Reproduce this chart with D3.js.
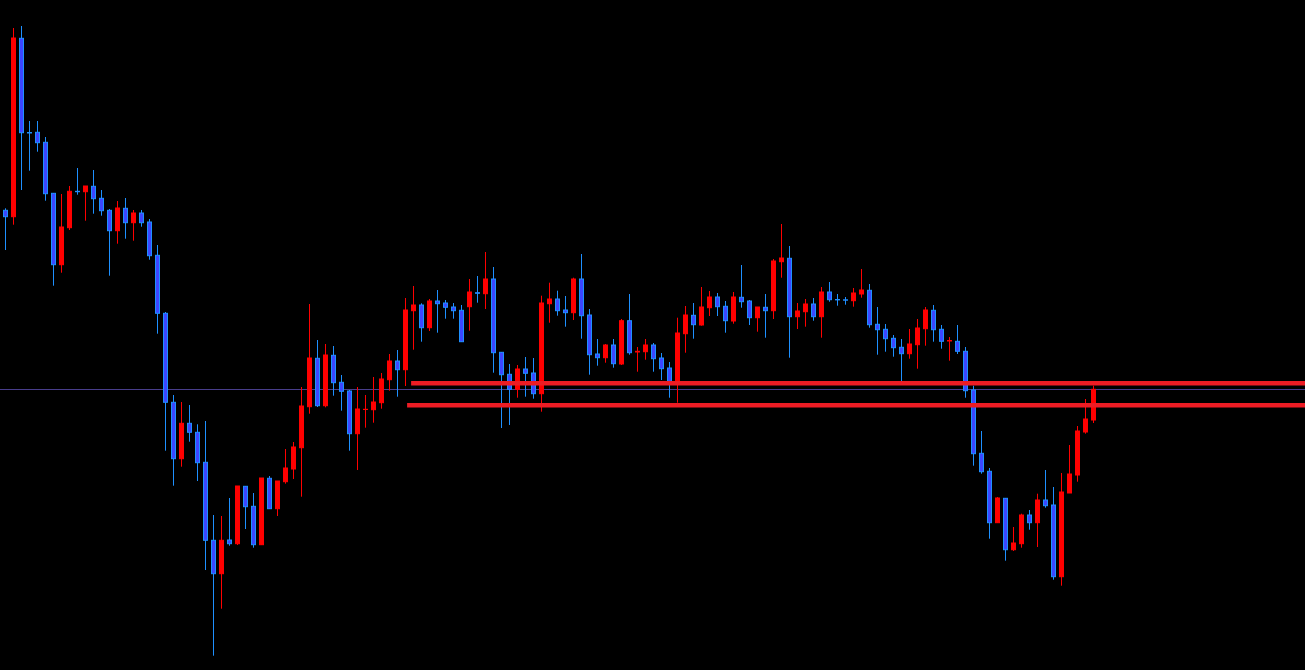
<!DOCTYPE html>
<html>
<head>
<meta charset="utf-8">
<script src="https://cdn.jsdelivr.net/npm/d3@7"></script>
<style>
html,body{margin:0;padding:0;background:#000;overflow:hidden;}
svg{display:block;}
</style>
</head>
<body>
<svg id="chart" width="1305" height="670"></svg>
<script>
// OHLC series (price units)
const opens = [459.7,453.3,631.7,537.5,537.7,527.7,476.7,405.3,442.3,478.7,478.3,483.7,471.7,459.7,439.3,461.7,447.3,457,448,414.7,
356.7,267.7,211.3,246.7,237.7,207.7,129.7,96.3,130,126.3,183.7,163.7,125.3,191.7,161.3,188.3,201,222.3,263.3,311.7,
264.3,314.7,287.7,279,236.3,260.5,260.3,267.3,290.3,309,300.3,359.3,365,342.3,369,367,363,359.7,363.3,377.3,
376.3,391,317.7,295.7,280.7,301,297,276.3,366.3,371,360,357.3,391,355,316,312.3,325,306,349.3,318,
318.3,325,312,302,288.7,336.3,354.7,345,362.3,373,363.7,349,372.7,369,352.3,362.7,359.3,408.3,411.7,353.3,
358.3,366,353.3,378,370.5,370.2,369.3,376,379.7,345.7,340.7,331.7,322.7,316.3,325.3,341.3,359.7,340.7,329,328.7,
318.7,280,216.7,198.7,147.3,171.7,120.3,126.3,155,147.3,170,165,93.3,177,195,238,250];
const highs = [461.7,642,644,549,549,533,477,476,484,502,484,500,480,461,469,472,460,460,451,425,
358,275,268,265,245.7,249,155,154,172,184,184,177,192,194,189,221,228,283,366,330,
326,324,295,280,283,275,293,297,316,320,372,384,366.7,371,380,370,367,365,391,394,
418,403,318,306,305,313,312,374.3,387.3,379.3,374,392.3,416,361,331,326,331,351,376,323,
331,327,317,308,352.3,364,367,383,379,377,369,378,405,370,363,376,411,446,424,367,
371,372,383,388,376,373,382,401,386,363,346,335,331,341,351,363,365,345,333,345,
323,284.3,239,202,173,172,143,156.3,160,176.3,200,183,197,225,244,271,284.3];
const lows = [420,445.3,480,499.3,518.3,469.3,384.3,397.3,440,475.3,449.3,456.3,454.3,394.3,426.3,431.3,429.3,443.3,410.3,336.3,
219.3,184.3,203.3,228.3,189,100,14.3,61.3,124.3,125,141,122.3,125,161.3,154,186.3,191,173.3,256.3,263,
262.7,274.3,259.3,219.3,200,242.3,247.3,261.3,279.3,273.3,284,320.3,328.3,339,337.3,351.3,351.3,328.3,339.3,367.3,
361,297.3,242,245,272.3,273.3,271.3,258.3,347.3,354.3,343.3,350,331.3,295.3,304.3,307.3,302.3,305,315.3,298.3,
310.3,298.3,290,272.3,267.3,317.3,331.3,344.3,354,354,337.3,346.3,362.3,345,338.3,332.3,351,392.3,312.3,341,
343.3,349.3,332.3,368.3,364.3,365.3,363.3,372.3,342.3,315.3,318.3,313.3,288.3,311.3,301.3,324.3,328.3,321.3,309.3,316,
272.3,204.3,196.3,131.3,147.3,109.3,119,122.3,140.3,123,162.3,90.3,84.3,177,188.3,236.3,247];
const closes = [453.3,632,537.3,537,527.3,476.3,405.3,443,478.7,478.3,484,471.3,459.3,439.3,462,447.3,457,447.3,414.3,356.7,
267.7,211.3,246.7,237.7,207.3,129.7,96.3,129.7,126.3,184,163.3,125.3,192,161.3,189,202,223,264,312,264.3,
315,287.3,278.7,236.3,261,260.7,268,291,309,300.3,360,365,342.3,369,366.3,362.7,359.3,328.3,378,376.7,
391,317.3,295.3,280.7,301,296.7,276.3,367,371,359.3,357.3,391,354.3,315.3,312.3,325,306.3,349.3,317.3,318.7,
325,311.3,301.3,288.7,337,355,345.3,363,373,363.3,349.3,373,368.3,352.3,363,359.3,409,412,353.3,359,
366,353.3,378,370.3,370.1,369.8,377,380,345.3,340.3,331.3,322.3,316.3,326,342,360,340.3,328.7,329.5,318.7,
279.3,216.3,198.3,147.3,172,120.3,127,155,147.3,170,164.3,93.3,178,196,239,251,280.7];

// horizontal levels
const resistanceLevels = [286.7, 264.7];
const resistanceStartIndex = [50.7, 50.2];
const currentPrice = [280.7];

const W = 1305, H = 670;
const svg = d3.select("#chart");
svg.append("rect").attr("width", W).attr("height", H).attr("fill", "#000");

const candles = opens.map((o, i) => ({i, o, h: highs[i], l: lows[i], c: closes[i]}));

const x = d3.scaleLinear().domain([0, 1]).range([5.5, 13.5]);
const y = d3.scaleLinear().domain([0, 670]).range([670, 0]);

const UP = "#ff0000", DOWN_FILL = "#3c46ff", DOWN_EDGE = "#1e90ff";

// current price line (behind)
svg.selectAll("line.cur").data(currentPrice).enter().append("line")
  .attr("x1", 0).attr("x2", W)
  .attr("y1", d => Math.round(y(d)) + 0.5).attr("y2", d => Math.round(y(d)) + 0.5)
  .attr("stroke", "#483d8b").attr("stroke-width", 1);

const g = svg.append("g");
const cg = g.selectAll("g.candle").data(candles).enter().append("g");

cg.append("line")
  .attr("x1", d => x(d.i)).attr("x2", d => x(d.i))
  .attr("y1", d => y(d.h)).attr("y2", d => y(d.l))
  .attr("stroke", d => d.c >= d.o ? UP : DOWN_EDGE)
  .attr("stroke-width", 1);

cg.append("rect")
  .attr("x", d => x(d.i) - 2)
  .attr("width", 4)
  .attr("y", d => y(Math.max(d.o, d.c)))
  .attr("height", d => Math.max(0.01, Math.abs(y(d.o) - y(d.c))))
  .attr("fill", d => d.c >= d.o ? UP : DOWN_FILL)
  .attr("stroke", d => d.c >= d.o ? UP : DOWN_EDGE)
  .attr("stroke-width", 1);

// resistance / support lines on top
svg.selectAll("line.lvl").data(resistanceLevels).enter().append("line")
  .attr("x1", (d, k) => x(resistanceStartIndex[k])).attr("x2", W)
  .attr("y1", d => y(d)).attr("y2", d => y(d))
  .attr("stroke", "#ed1c24").attr("stroke-width", 4.5);
</script>
</body>
</html>
